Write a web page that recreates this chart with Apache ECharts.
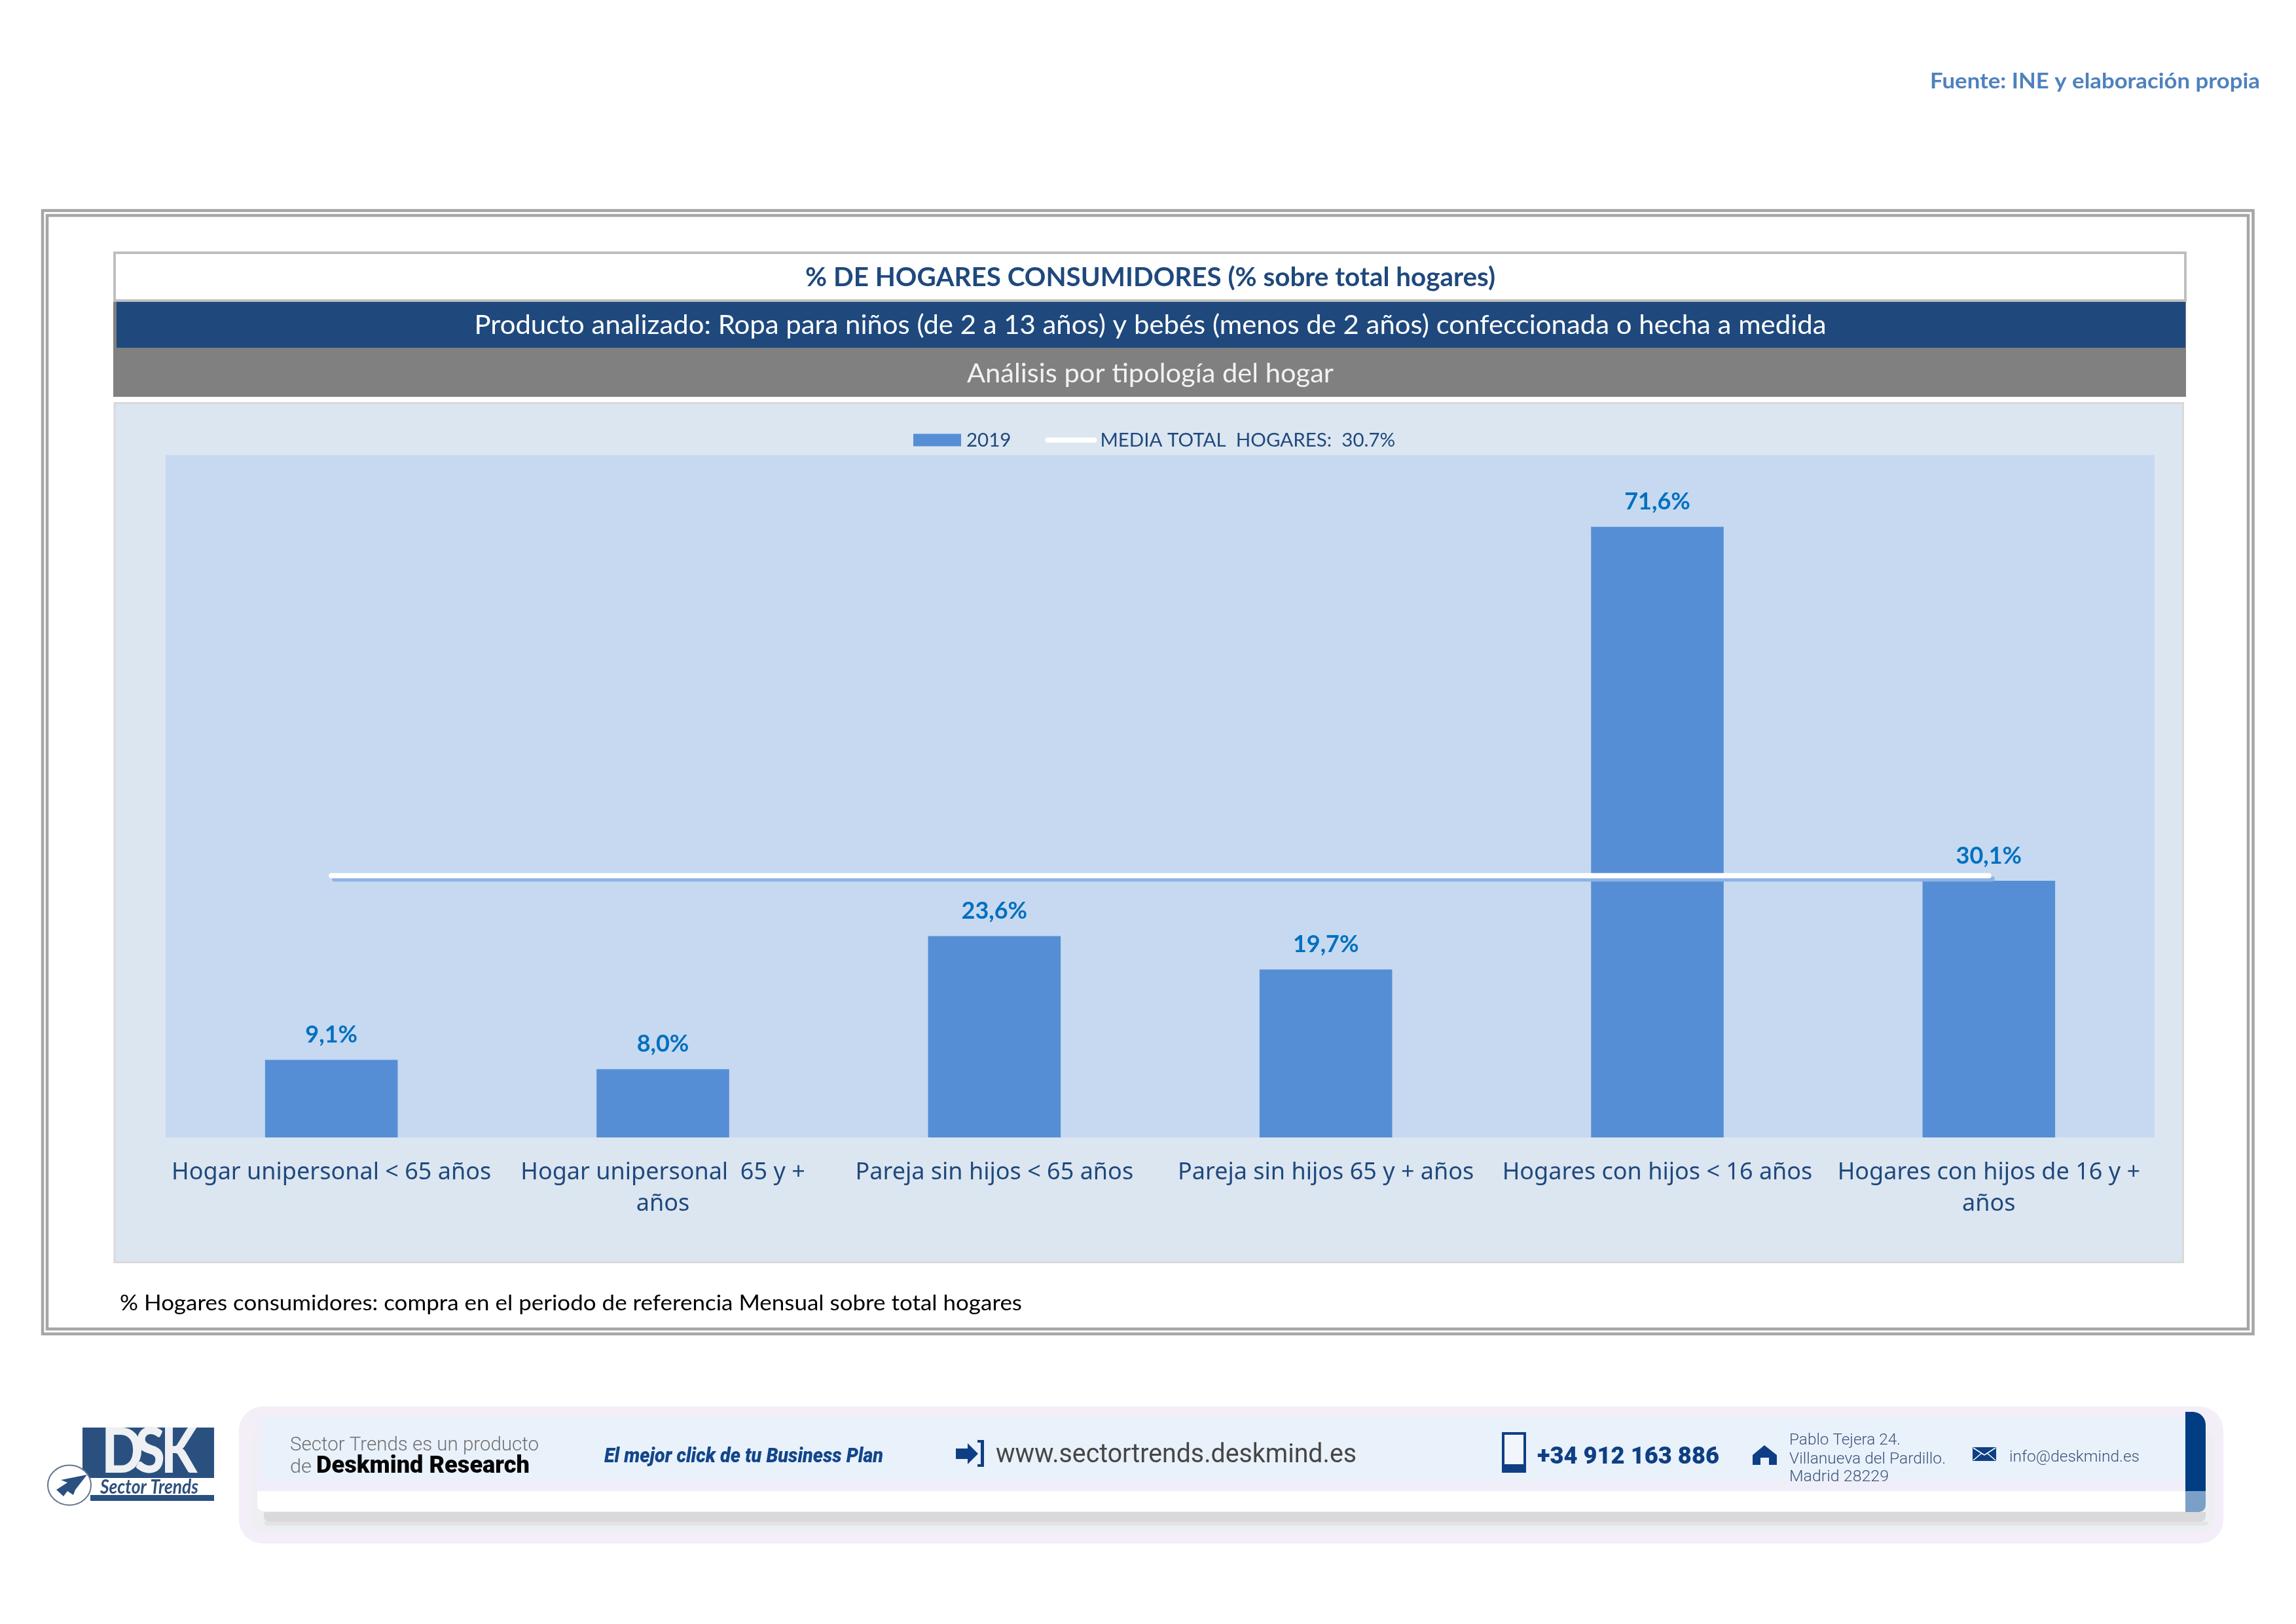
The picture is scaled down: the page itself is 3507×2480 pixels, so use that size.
<!DOCTYPE html>
<html>
<head>
<meta charset="utf-8">
<style>html,body{margin:0;padding:0;background:#fff}#c{width:3507px;height:2480px}</style>
<script src="https://cdn.jsdelivr.net/npm/echarts@6/dist/echarts.min.js"></script>
</head>
<body>
<div id="c"></div>
<script>
const categories = ['Hogar unipersonal < 65 años','Hogar unipersonal  65 y +\naños','Pareja sin hijos < 65 años','Pareja sin hijos 65 y + años','Hogares con hijos < 16 años','Hogares con hijos de 16 y +\naños'];
const values2019 = [9.1,8.0,23.6,19.7,71.6,30.1];
const mediaTotal = [30.7,30.7,30.7,30.7,30.7,30.7];
const barName = '2019';
const lineName = 'MEDIA TOTAL  HOGARES:  30.7%';
const titleText = '% DE HOGARES CONSUMIDORES (% sobre total hogares)';
const subText = 'Producto analizado: Ropa para niños (de 2 a 13 años) y bebés (menos de 2 años) confeccionada o hecha a medida';
const thirdText = 'Análisis por tipología del hogar';
const sourceText = 'Fuente: INE y elaboración propia';
const noteText = '% Hogares consumidores: compra en el periodo de referencia Mensual sobre total hogares';

const ctx = document.createElement('canvas').getContext('2d');
function T(text,x,y,font,fill,width,align){
  ctx.font = font;
  const w = ctx.measureText(text).width;
  return {type:'text',x,y:y+3,scaleX:width?width/w:1,z:1,silent:true,
    style:{text,font,fill,textAlign:align||'left',textVerticalAlign:'middle'}};
}
function R(x,y,w,h,fill,r,stroke,lw){
  return {type:'rect',z:0,silent:true,shape:{x,y,width:w,height:h,r:r||0},style:{fill:fill||'none',stroke:stroke||null,lineWidth:lw||0}};
}
function P(points,fill,z){return {type:'polygon',z:z||1,silent:true,shape:{points},style:{fill}};}
function L(x1,y1,x2,y2,stroke,lw){return {type:'line',z:1,silent:true,shape:{x1,y1,x2,y2},style:{stroke,lineWidth:lw}};}

const LATO='Lato, Carlito, sans-serif', RB='Roboto, sans-serif';
const graphics = [
  // outer double frame
  R(65,321.5,3376.5,1715.5,null,0,'#a6a6a6',4.5),
  R(72,329,3362,1700.5,null,0,'#a6a6a6',4.5),
  // heading blocks
  R(175,386,3163,73,'#ffffff',0,'#bfbfbf',4),
  R(173,461,3166,70,'#7f7f7f'),
  R(178,461,3160,70,'#1f497d'),
  R(173,531,3166,75,'#808080'),
  // chart panel
  R(175,615.5,3159.5,1312,'#dce6f1',0,'#d9d9d9',3),
  T(titleText,1757,421,'bold 41px '+LATO,'#1f497d',1054,'center'),
  T(subText,1757,494,'41px '+LATO,'#ffffff',2065,'center'),
  T(thirdText,1757,568,'41px '+LATO,'#f2f2f2',560,'center'),
  T(sourceText,2948,122,'bold 32px '+LATO,'#4f81bd',504),
  T(noteText,183,1988,'32px '+LATO,'#000000',1378),

  // footer banner
  R(365,2148,3031,209,'#f3eef8',36),
  R(385,2185,2997,155,'#edeff2',20),
  R(403,2309,2966,15,'#d9d9db',[0,0,8,8]),
  R(403,2324,2970,6,'#e3e3e5',[0,0,8,8]),
  R(393,2160,2945,117,'#f0eff9',[16,0,0,0]),
  R(402,2165,2936,95,'#e9f1fb',[8,0,0,0]),
  R(3338,2156,31,121,'#003d82',[0,20,0,0]),
  R(3338,2277,31,32,'#7ba0c8',[0,0,10,0]),
  R(393,2277,2945,31,'#ffffff',[0,0,0,10]),
  T('Sector Trends es un producto',443,2204,'300 30px '+RB,'#6f6f6f',380),
  T('de',443,2238,'300 30px '+RB,'#6f6f6f',33),
  T('Deskmind Research',483,2237,'900 37px '+RB,'#050505',326),
  T('El mejor click de tu Business Plan',923,2222,'italic 900 32px '+RB,'#12468a',426),
  P([[1460,2212],[1478,2212],[1478,2204],[1494,2220],[1478,2236],[1478,2228],[1460,2228]],'#0e3f84'),
  P([[1493,2199],[1503,2199],[1503,2240],[1493,2240],[1493,2236],[1498,2236],[1498,2203],[1493,2203]],'#0e3f84'),
  T('www.sectortrends.deskmind.es',1521,2220,'41px '+RB,'#464646',551),
  R(2296,2189,33,57,'#f2f6fc',0,'#0e3f84',4),
  R(2294,2236,37,13,'#0e3f84'),
  T('+34 912 163 886',2348,2223,'900 37px '+RB,'#0e3f84',278),
  P([[2695,2207],[2714,2222],[2714,2237],[2702,2237],[2702,2226],[2689,2226],[2689,2237],[2677,2237],[2677,2222]],'#0e3f84'),
  T('Pablo Tejera 24.',2733,2197,'300 24px '+RB,'#3d5378',170),
  T('Villanueva del Pardillo.',2733,2226,'300 24px '+RB,'#3d5378',239),
  T('Madrid 28229',2733,2253,'300 24px '+RB,'#3d5378',152),
  R(3013,2210,36,21,'#0e3f84'),
  L(3014,2211,3031,2222,'#ffffff',1.5),
  L(3048,2211,3031,2222,'#ffffff',1.5),
  L(3014,2230,3027,2219,'#ffffff',1.5),
  L(3048,2230,3035,2219,'#ffffff',1.5),
  T('info@deskmind.es',3069,2223,'300 24px '+RB,'#3d5378',199),

  // logo
  R(126,2180,201,77,'#2a5080'),
  R(138,2283,189,9,'#2a5080'),
  T('D',155,2215,'900 96px '+LATO,'#eef0f3',64),
  T('S',206,2215,'900 96px '+LATO,'#eef0f3',46),
  T('K',246,2215,'900 96px '+LATO,'#eef0f3',55),
  T('Sector Trends',153,2268,'italic bold 30px '+LATO,'#2f4f7c',150),
  {type:'ellipse',z:1,silent:true,shape:{cx:106,cy:2268,rx:33,ry:30.5},style:{fill:'#ffffff',stroke:'#66758f',lineWidth:2}},
  P([[133,2252],[93,2260],[103,2264],[86,2275],[97,2285],[103,2277],[112,2283],[115,2275]],'#2a5080',2)
];

// legend glyphs: the zero-length anchors keep each glyph's box at itemWidth x itemHeight
const swatchIcon = 'path://M0,0L0,0M3,0L76,0L76,19L3,19ZM79,19L79,19';
const lineIcon = 'path://M0,0L0,0M4,5.5L75,5.5A4,4,0,0,1,75,13.5L4,13.5A4,4,0,0,1,4,5.5ZM79,19L79,19';

const chart = echarts.init(document.getElementById('c'),null,{renderer:'canvas'});
chart.setOption({
  animation:false,
  backgroundColor:'#ffffff',
  textStyle:{fontFamily:LATO},
  graphic:{z:-1,elements:graphics},
  legend:{
    left:1387,top:652,itemWidth:79,itemHeight:19,itemGap:52,
    selectedMode:false,
    textStyle:{fontFamily:LATO,fontSize:29.5,color:'#1f497d'},
    data:[{name:barName,icon:swatchIcon},{name:lineName,icon:lineIcon}]
  },
  grid:{left:253,right:216,top:695,bottom:743,show:true,backgroundColor:'#c6d9f0',borderWidth:0,z:1},
  xAxis:{
    type:'category',data:categories,
    axisLine:{show:false},axisTick:{show:false},
    axisLabel:{interval:0,margin:30,fontFamily:'"Noto Sans", sans-serif',fontSize:36,lineHeight:48,color:'#1f497d'}
  },
  yAxis:{type:'value',min:0,max:80,show:false,splitLine:{show:false}},
  series:[
    {name:barName,type:'bar',data:values2019,barWidth:'40%',itemStyle:{color:'#558ed5'},z:2,
     label:{show:true,position:'top',distance:20,fontFamily:LATO,fontWeight:'bold',fontSize:36,color:'#0070c0',
       formatter:p=>p.value.toFixed(1).replace('.',',')+'%'}},
    {name:lineName,type:'line',data:mediaTotal,symbol:'none',z:3,
     lineStyle:{color:'#ffffff',width:8,cap:'round',shadowColor:'#8db3e6',shadowBlur:0,shadowOffsetX:5,shadowOffsetY:5},
     itemStyle:{color:'#ffffff'}}
  ]
});
</script>
</body>
</html>
